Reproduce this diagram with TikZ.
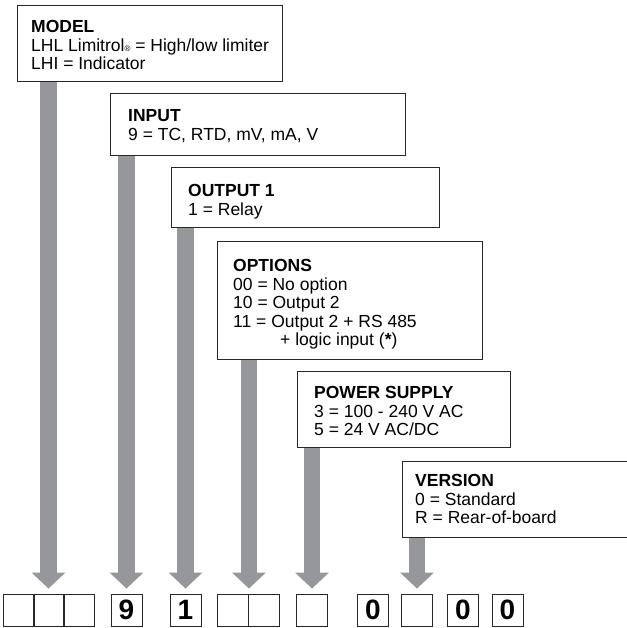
\documentclass[tikz,border=0pt]{standalone}
\usepackage{fontspec}
\setmainfont{Liberation Sans}
\usetikzlibrary{arrows.meta}
\definecolor{shaftgray}{RGB}{150,151,155}
\definecolor{boxline}{RGB}{40,40,40}

\tikzstyle{codebox}=[draw=boxline, fill=white, line width=1pt, anchor=north west, inner sep=0pt]
\tikzstyle{boxtext}=[anchor=north west, inner sep=0pt, align=left, font=\fontsize{17.5}{18.4}\selectfont]
\tikzstyle{cell}=[draw=boxline, line width=0.9pt, minimum width=31pt, minimum height=32pt, inner sep=0pt, font=\fontsize{28}{28}\selectfont\bfseries]
\tikzstyle{shaft}=[draw=shaftgray, line width=16.5pt, -{Triangle[width=33pt,length=16pt]}]

\begin{document}
\begin{tikzpicture}[x=1pt,y=-1pt]
        \useasboundingbox (0,0) rectangle (626,628);

        % code boxes
        \draw (17,5)    node[codebox, minimum width=265pt, minimum height=76pt](model){};
        \draw (110,93)  node[codebox, minimum width=295pt, minimum height=62pt](input){};
        \draw (171,167) node[codebox, minimum width=268pt, minimum height=60pt](output){};
        \draw (217,241) node[codebox, minimum width=265pt, minimum height=118pt](options){};
        \draw (297,371) node[codebox, minimum width=213pt, minimum height=76pt](supply){};
        \draw (402,461) node[codebox, minimum width=230pt, minimum height=76pt](version){};

        % texts
        \draw (31,20.5)   node[boxtext](modeltxt){\textbf{MODEL}\\LHL Limitrol{\fontsize{8}{8}\selectfont ®} = High/low limiter\\LHI = Indicator};
        \draw (128,109.5) node[boxtext](inputtxt){\textbf{INPUT}\\9 = TC, RTD, mV, mA, V};
        \draw (188,184.5) node[boxtext](outputtxt){\textbf{OUTPUT 1}\\1 = Relay};
        \draw (233,259.5) node[boxtext](optionstxt){\textbf{OPTIONS}\\00 = No option\\10 = Output 2\\11 = Output 2 + RS 485\\\hspace*{47pt}+ logic input (\textbf{*})};
        \draw (314,386.5) node[boxtext](supplytxt){\textbf{POWER SUPPLY}\\3 = 100 - 240 V AC\\5 = 24 V AC/DC};
        \draw (415,474.5) node[boxtext](versiontxt){\textbf{VERSION}\\0 = Standard\\R = Rear-of-board};

        % code cells
        \draw (18.5,610)  node[cell](mdl1){};
        \draw (48.5,610)  node[cell](mdl2){};
        \draw (78.5,610)  node[cell](mdl3){};
        \draw (126.5,610) node[cell](inp){9};
        \draw (185.5,610) node[cell](out){1};
        \draw (233,610)   node[cell](opt1){};
        \draw (264,610)   node[cell](opt2){};
        \draw (312,610)   node[cell](pwr){};
        \draw (373,610)   node[cell](zeroa){0};
        \draw (417,610)   node[cell](ver){};
        \draw (463,610)   node[cell](zerob){0};
        \draw (507.5,610) node[cell](zeroc){0};
        %
        \draw[shaft] (model.south -| mdl2.north)    -- ([yshift=5pt]mdl2.north);
        \draw[shaft] (input.south -| inp.north)     -- ([yshift=5pt]inp.north);
        \draw[shaft] (output.south -| out.north)    -- ([yshift=5pt]out.north);
        \draw[shaft] (options.south -| opt1.north east) -- ([yshift=5pt]opt1.north east);
        \draw[shaft] (supply.south -| pwr.north)    -- ([yshift=5pt]pwr.north);
        \draw[shaft] (version.south -| ver.north)   -- ([yshift=5pt]ver.north);
      \end{tikzpicture}
\end{document}
